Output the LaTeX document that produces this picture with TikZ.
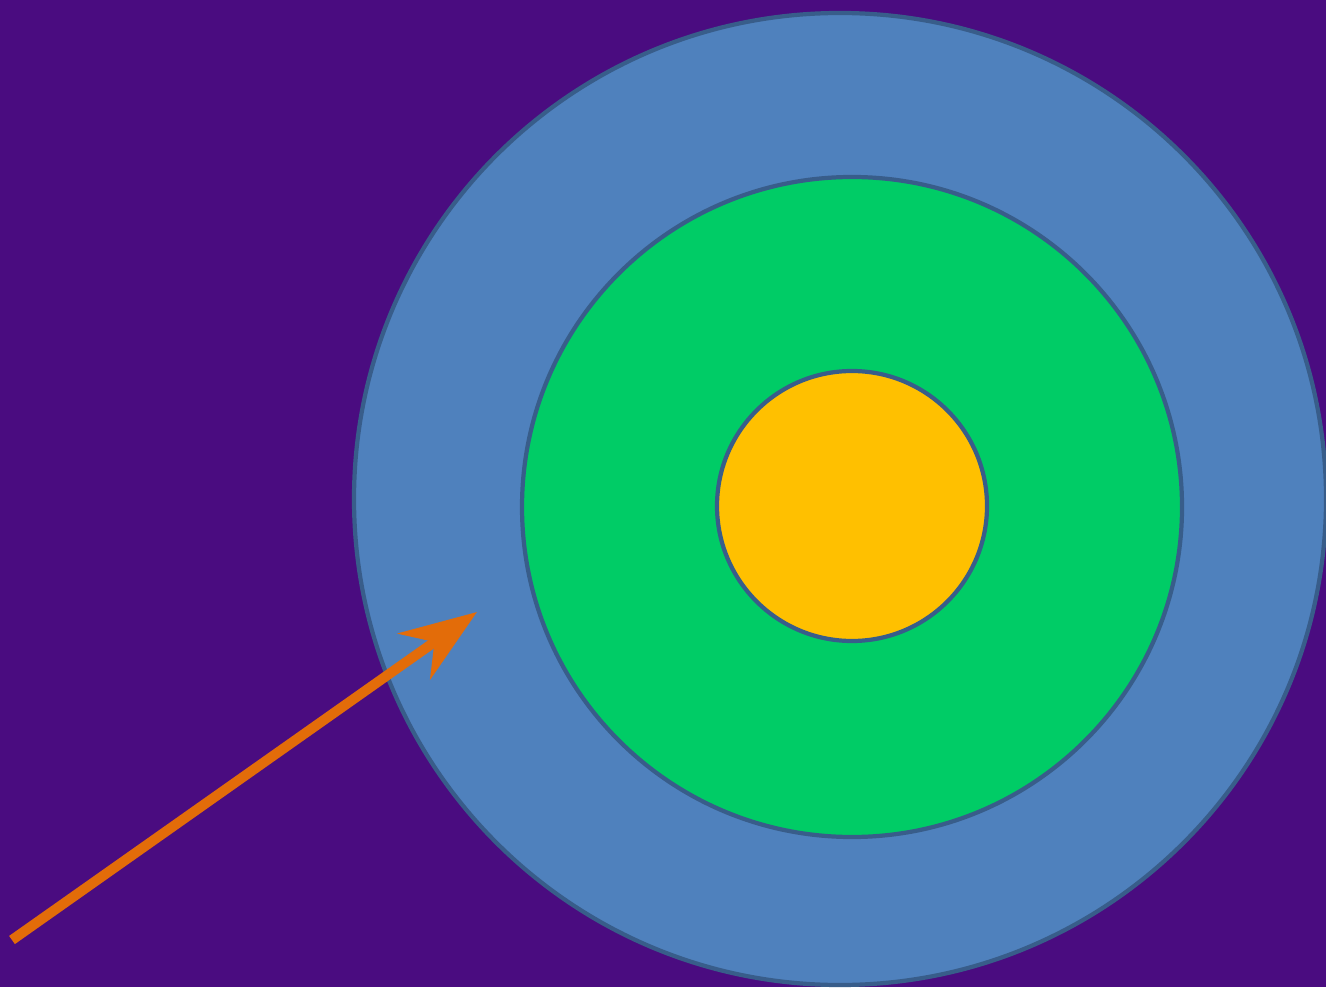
\documentclass[tikz,border=0pt]{standalone}
\usetikzlibrary{arrows.meta, positioning}
\definecolor{feltpurple}{HTML}{4A0C80}
\definecolor{ringblue}{HTML}{4F81BD}
\definecolor{ringedge}{HTML}{385D8A}
\definecolor{ringgreen}{HTML}{00CC66}
\definecolor{ringgold}{HTML}{FFC000}
\definecolor{dartorange}{HTML}{E36C09}

\begin{document}
\begin{tikzpicture}[ring/.style={circle, draw=ringedge, line width=1.2pt, inner sep=0pt}]
\fill[feltpurple] (0,0) rectangle (13.26,9.87);
\useasboundingbox (0,0) rectangle (13.26,9.87);
\node[ring, fill=ringblue, minimum size=9.72cm] (outer) at (8.40,4.88) {};
\node[ring, fill=ringgreen, minimum size=6.60cm] (middle) at (8.52,4.80) {};
\node[ring, fill=ringgold, minimum size=2.70cm] (bull) at (8.52,4.81) {};
\coordinate (throw) at (0.12,0.47);
\coordinate (hit) at (4.77,3.75);
\draw[-{Stealth[length=7.7mm, width=5.6mm, inset=2.5mm]}, line width=0.1cm, dartorange] (throw) -- (hit);
\end{tikzpicture}
\end{document}
